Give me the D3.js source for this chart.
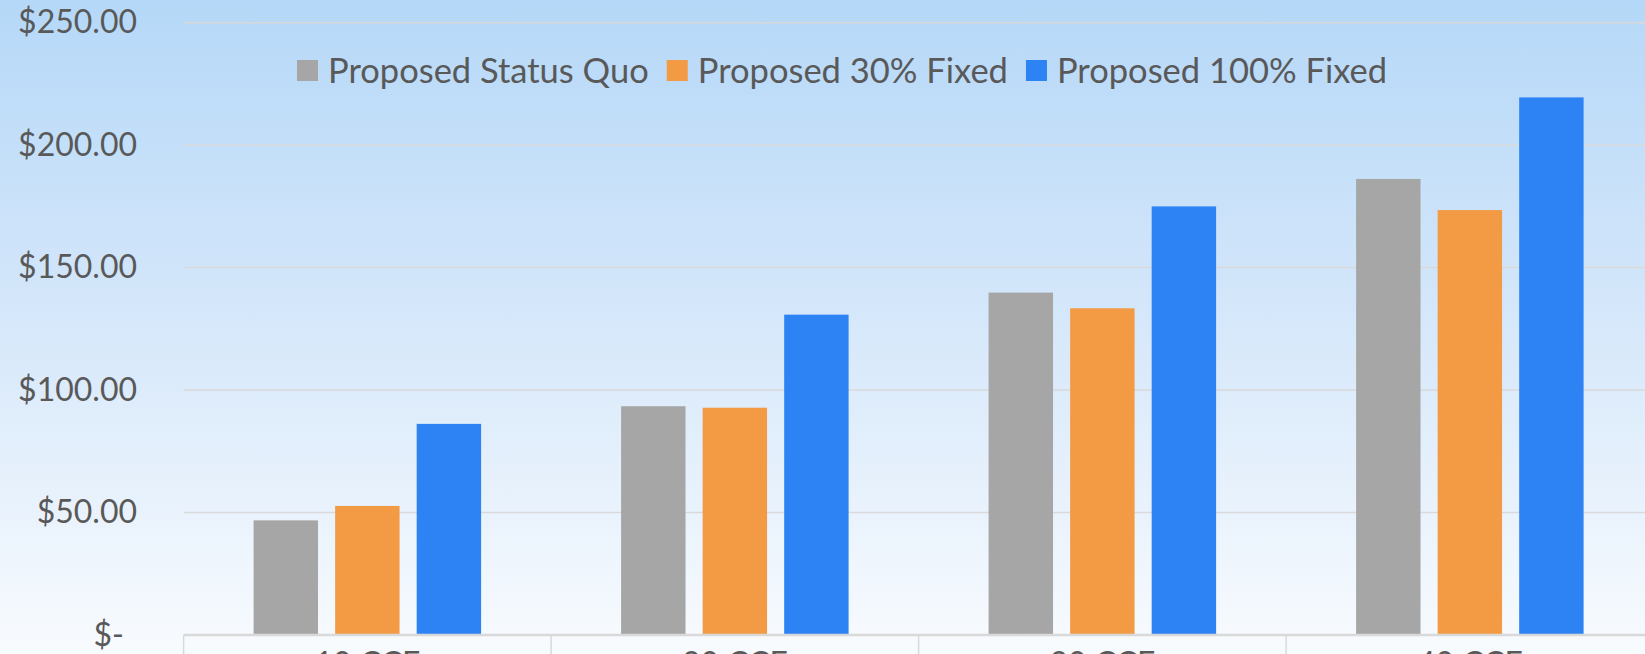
<!DOCTYPE html>
<html>
<head>
<meta charset="utf-8">
<script src="https://cdn.jsdelivr.net/npm/d3@7"></script>
<style>
  html, body { margin: 0; padding: 0; overflow: hidden; }
  body { width: 1645px; height: 654px; }
  svg { display: block; font-family: Lato, "Open Sans", sans-serif; }
</style>
</head>
<body>
<svg id="chart" width="1645" height="654"></svg>
<script>
// data
const categories = ['10 CCF', '20 CCF', '30 CCF', '40 CCF'];
const seriesNames = ['Proposed Status Quo', 'Proposed 30% Fixed', 'Proposed 100% Fixed'];
const statusQuo = [46.8, 93.4, 139.8, 186.2];
const fixed30 = [52.7, 92.8, 133.4, 173.5];
const fixed100 = [86.2, 130.8, 175.0, 219.5];
const yTickValues = [0, 50, 100, 150, 200, 250];
const yTickLabels = ['$-', '$50.00', '$100.00', '$150.00', '$200.00', '$250.00'];

const colors = ['#a6a6a6', '#f29b44', '#2d83f3'];
const textColor = '#595959';
const gridColor = '#d9d9d9';

const W = 1645, H = 654;
const plot = {left: 183.6, right: 1653.6, top: 22.7, bottom: 635};

const svg = d3.select('#chart');

// background gradient
const defs = svg.append('defs');
const grad = defs.append('linearGradient')
    .attr('id', 'bg').attr('x1', 0).attr('y1', 0).attr('x2', 0).attr('y2', 1);
grad.append('stop').attr('offset', '0%').attr('stop-color', '#b5d8f8');
grad.append('stop').attr('offset', '45%').attr('stop-color', '#d3e6fa');
grad.append('stop').attr('offset', '100%').attr('stop-color', '#f8fbfe');
svg.append('rect').attr('width', W).attr('height', H).attr('fill', 'url(#bg)');

const y = d3.scaleLinear().domain([0, 250]).range([plot.bottom, plot.top]);
const x0 = d3.scaleBand().domain(categories).range([plot.left, plot.right]);
const groupPad = 70;
const x1 = d3.scaleBand().domain(seriesNames)
    .range([groupPad, x0.bandwidth() - groupPad]).paddingInner(0.21);

// gridlines
svg.append('g').selectAll('line')
    .data(yTickValues.filter(v => v > 0))
    .join('line')
    .attr('x1', plot.left).attr('x2', W)
    .attr('y1', d => y(d)).attr('y2', d => y(d))
    .attr('stroke', gridColor).attr('stroke-width', 1.5);

// y axis labels
const yAxis = svg.append('g')
    .attr('transform', `translate(${plot.left},0)`)
    .call(d3.axisLeft(y).tickValues(yTickValues)
        .tickFormat((d, i) => yTickLabels[i]).tickSize(0).tickPadding(46.6));
yAxis.select('.domain').remove();
yAxis.selectAll('text')
    .attr('fill', textColor).style('font-size', '32px').style('font-family', 'Lato')
    .attr('dx', d => d === 0 ? -13 : 0);

// bars
const seriesValues = [statusQuo, fixed30, fixed100];
const barData = [];
categories.forEach((c, ci) => {
    seriesNames.forEach((s, si) => {
        barData.push({cat: c, series: s, si: si, value: seriesValues[si][ci]});
    });
});
svg.append('g').selectAll('rect')
    .data(barData)
    .join('rect')
    .attr('x', d => x0(d.cat) + x1(d.series))
    .attr('width', x1.bandwidth())
    .attr('y', d => y(d.value))
    .attr('height', d => y(0) - y(d.value))
    .attr('fill', d => colors[d.si]);

// x axis line and category dividers
svg.append('line')
    .attr('x1', plot.left).attr('x2', W)
    .attr('y1', plot.bottom).attr('y2', plot.bottom)
    .attr('stroke', gridColor).attr('stroke-width', 2.5);
const edges = categories.map(c => x0(c)).concat([x0.range()[1]]);
svg.append('g').selectAll('line')
    .data(edges)
    .join('line')
    .attr('x1', d => d).attr('x2', d => d)
    .attr('y1', plot.bottom).attr('y2', H)
    .attr('stroke', gridColor).attr('stroke-width', 1.5);

// category labels sit mostly below the visible area, as in the source
const xAxis = svg.append('g')
    .attr('transform', `translate(0,${plot.bottom})`)
    .call(d3.axisBottom(x0).tickSize(0).tickPadding(17));
xAxis.select('.domain').remove();
xAxis.selectAll('text')
    .attr('fill', textColor).style('font-size', '32px').style('font-family', 'Lato');

// legend
const legend = svg.append('g').attr('transform', 'translate(297,71)');
let lx = 0;
seriesNames.forEach((name, i) => {
    const item = legend.append('g').attr('transform', `translate(${lx},0)`);
    item.append('rect').attr('x', 0).attr('y', -11).attr('width', 21).attr('height', 21)
        .attr('fill', colors[i]);
    const t = item.append('text').attr('x', 31).attr('y', 0).attr('dy', '0.35em')
        .attr('fill', textColor).style('font-size', '34.5px').text(name);
    lx += 31 + t.node().getComputedTextLength() + 18;
});
</script>
</body>
</html>
